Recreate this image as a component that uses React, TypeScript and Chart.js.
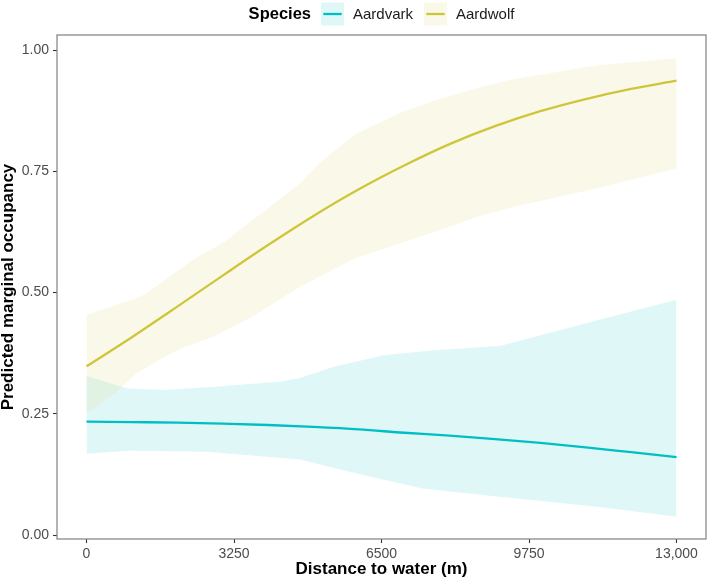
import React, { useEffect, useRef } from "react";
import { Chart, registerables } from "chart.js";

Chart.register(...registerables);

// ---------- data ----------
const distance = [0, 1000, 2000, 3000, 4000, 5000, 6000, 7000, 8000, 9000, 10000, 11000, 12000, 13000];
const aardvarkFit = [0.234, 0.233, 0.232, 0.230, 0.227, 0.223, 0.218, 0.211, 0.205, 0.198, 0.190, 0.181, 0.171, 0.161];
const aardwolfFit = [0.348, 0.408, 0.471, 0.535, 0.598, 0.658, 0.713, 0.762, 0.806, 0.843, 0.874, 0.899, 0.920, 0.937];

const aardvarkUpperX = [0, 900, 1700, 2800, 4250, 4700, 5450, 6550, 7650, 9100, 11300, 13000];
const aardvarkUpper = [0.328, 0.302, 0.299, 0.306, 0.316, 0.324, 0.347, 0.371, 0.381, 0.390, 0.444, 0.485];
const aardvarkLowerX = [0, 950, 2650, 3500, 4700, 5950, 7400, 9300, 11300, 13000];
const aardvarkLower = [0.168, 0.174, 0.172, 0.165, 0.156, 0.127, 0.096, 0.077, 0.058, 0.038];

const aardwolfUpperX = [0, 1000, 1300, 2350, 3000, 3950, 4700, 5200, 5950, 6900, 7800, 8600, 9300, 11300, 13000];
const aardwolfUpper = [0.454, 0.485, 0.497, 0.568, 0.602, 0.670, 0.725, 0.773, 0.828, 0.870, 0.900, 0.921, 0.938, 0.969, 0.983];
const aardwolfLowerX = [0, 600, 1100, 1600, 2100, 2800, 3650, 4700, 5950, 6900, 7800, 8600, 9300, 11300, 13000];
const aardwolfLower = [0.251, 0.290, 0.333, 0.361, 0.386, 0.409, 0.450, 0.512, 0.572, 0.601, 0.629, 0.656, 0.674, 0.716, 0.756];

const xTickValues = [0, 3250, 6500, 9750, 13000];
const xTickLabels = ["0", "3250", "6500", "9750", "13,000"];
const yTickValues = [0, 0.25, 0.5, 0.75, 1];
const yTickLabels = ["0.00", "0.25", "0.50", "0.75", "1.00"];

const legendTitle = "Species";
const speciesNames = ["Aardvark", "Aardwolf"];
const speciesColors = ["#00BFC4", "#CEC63A"];
const bandColors = ["rgba(0,191,196,0.12)", "rgba(206,198,58,0.11)"];

const FONT = "'Liberation Sans', Arial, Helvetica, sans-serif";

const pts = (xs: number[], ys: number[]) => xs.map((x, i) => ({ x, y: ys[i] }));

const framePlugin = {
  id: "frameLegend",
  afterDraw(chart: any) {
    const { ctx, chartArea: a } = chart;
    ctx.save();
    ctx.strokeStyle = "#808080";
    ctx.lineWidth = 1.2;
    ctx.strokeRect(a.left, a.top, a.right - a.left, a.bottom - a.top);

    // legend
    const titleFont = `bold 16.5px ${FONT}`;
    const labelFont = `15px ${FONT}`;
    ctx.font = titleFont;
    const titleW = ctx.measureText(legendTitle).width;
    ctx.font = labelFont;
    const labelWs = speciesNames.map((n) => ctx.measureText(n).width);
    const sw = 23, gapTitle = 10, gapLabel = 9, gapItem = 11;
    let total = titleW + gapTitle;
    labelWs.forEach((w, i) => {
      total += (i > 0 ? gapItem : 0) + sw + gapLabel + w;
    });
    let x = (a.left + a.right) / 2 - total / 2;
    const cy = 14;
    ctx.textBaseline = "middle";
    ctx.textAlign = "left";
    ctx.fillStyle = "#000";
    ctx.font = titleFont;
    ctx.fillText(legendTitle, x, cy);
    x += titleW + gapTitle;
    speciesNames.forEach((name, i) => {
      if (i > 0) x += gapItem;
      ctx.fillStyle = "#fff";
      ctx.fillRect(x, cy - sw / 2, sw, sw);
      ctx.fillStyle = bandColors[i];
      ctx.fillRect(x, cy - sw / 2, sw, sw);
      ctx.strokeStyle = speciesColors[i];
      ctx.lineWidth = 2.3;
      ctx.beginPath();
      ctx.moveTo(x + sw * 0.1, cy);
      ctx.lineTo(x + sw * 0.9, cy);
      ctx.stroke();
      x += sw + gapLabel;
      ctx.fillStyle = "#1a1a1a";
      ctx.font = labelFont;
      ctx.fillText(name, x, cy + 0.5);
      x += labelWs[i];
    });
    ctx.restore();
  },
};

export default function App() {
  const ref = useRef<HTMLCanvasElement | null>(null);

  useEffect(() => {
    if (!ref.current) return;
    const chart = new Chart(ref.current, {
      type: "line",
      data: {
        datasets: [
          {
            label: speciesNames[0],
            data: pts(distance, aardvarkFit),
            borderColor: speciesColors[0],
            borderWidth: 2.3,
            pointRadius: 0,
            cubicInterpolationMode: "monotone",
            fill: false,
            order: 0,
          },
          {
            label: speciesNames[1],
            data: pts(distance, aardwolfFit),
            borderColor: speciesColors[1],
            borderWidth: 2.3,
            pointRadius: 0,
            cubicInterpolationMode: "monotone",
            fill: false,
            order: 1,
          },
          {
            label: "Aardwolf upper",
            data: pts(aardwolfUpperX, aardwolfUpper),
            borderColor: "rgba(0,0,0,0)",
            borderWidth: 0,
            pointRadius: 0,
            tension: 0,
            backgroundColor: bandColors[1],
            fill: "+1",
            order: 2,
          },
          {
            label: "Aardwolf lower",
            data: pts(aardwolfLowerX, aardwolfLower),
            borderColor: "rgba(0,0,0,0)",
            borderWidth: 0,
            pointRadius: 0,
            tension: 0,
            fill: false,
            order: 3,
          },
          {
            label: "Aardvark upper",
            data: pts(aardvarkUpperX, aardvarkUpper),
            borderColor: "rgba(0,0,0,0)",
            borderWidth: 0,
            pointRadius: 0,
            tension: 0,
            backgroundColor: bandColors[0],
            fill: "+1",
            order: 4,
          },
          {
            label: "Aardvark lower",
            data: pts(aardvarkLowerX, aardvarkLower),
            borderColor: "rgba(0,0,0,0)",
            borderWidth: 0,
            pointRadius: 0,
            tension: 0,
            fill: false,
            order: 5,
          },
        ],
      },
      options: {
        animation: false,
        responsive: false,
        events: [],
        layout: { padding: { top: 35, right: 3, left: 0, bottom: 0 } },
        plugins: {
          legend: { display: false },
          tooltip: { enabled: false },
          filler: { propagate: false },
        },
        scales: {
          x: {
            type: "linear",
            min: -650,
            max: 13650,
            afterBuildTicks: (s: any) => {
              s.ticks = xTickValues.map((v) => ({ value: v }));
            },
            afterFit: (s: any) => {
              s.height = 44;
            },
            ticks: {
              autoSkip: false,
              maxRotation: 0,
              padding: 3,
              color: "#4D4D4D",
              font: { family: FONT, size: 14 },
              callback: (v: any) => xTickLabels[xTickValues.indexOf(Number(v))],
            },
            grid: {
              display: true,
              drawOnChartArea: false,
              drawTicks: true,
              tickLength: 4,
              tickColor: "#333333",
              tickWidth: 1.1,
            },
            border: { display: false },
            title: {
              display: true,
              text: "Distance to water (m)",
              color: "#000",
              font: { family: FONT, size: 17, weight: "bold", lineHeight: 1 },
              padding: { top: 0, bottom: 5 },
            },
          },
          y: {
            type: "linear",
            min: -0.008,
            max: 1.031,
            afterBuildTicks: (s: any) => {
              s.ticks = yTickValues.map((v) => ({ value: v }));
            },
            afterFit: (s: any) => {
              s.width = 57;
            },
            ticks: {
              autoSkip: false,
              padding: 4,
              color: "#4D4D4D",
              font: { family: FONT, size: 14 },
              callback: (v: any) => yTickLabels[yTickValues.indexOf(Number(v))],
            },
            grid: {
              display: true,
              drawOnChartArea: false,
              drawTicks: true,
              tickLength: 4,
              tickColor: "#333333",
              tickWidth: 1.1,
            },
            border: { display: false },
            title: {
              display: true,
              text: "Predicted marginal occupancy",
              color: "#000",
              font: { family: FONT, size: 17, weight: "bold", lineHeight: 1 },
              padding: { top: 0, bottom: 0 },
            },
          },
        },
      },
      plugins: [framePlugin],
    });
    return () => chart.destroy();
  }, []);

  return (
    <div style={{ position: "fixed", left: 0, top: 0, width: 709, height: 583, background: "#fff" }}>
      <canvas ref={ref} width={709} height={583} style={{ display: "block" }} />
    </div>
  );
}
